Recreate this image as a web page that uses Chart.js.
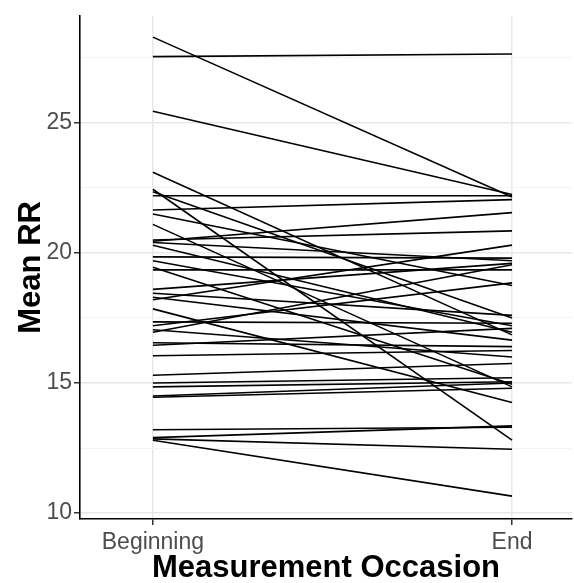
<!DOCTYPE html>
<html>
<head>
<meta charset="utf-8">
<script src="https://cdn.jsdelivr.net/npm/chart.js@4"></script>
<style>
  html, body { margin: 0; padding: 0; background: #fff; }
</style>
</head>
<body>
<canvas id="chart" width="574" height="583"></canvas>
<script>
// one entry per subject: mean RR at beginning and at end
const occasions = ['Beginning', 'End'];
const beginning = [
    28.3, 27.55, 25.45, 23.1, 22.45, 22.35, 22.2, 21.65, 21.5, 21.1,
    20.5, 20.45, 20.4, 20.3, 19.85, 19.7, 19.45, 19.35, 18.6, 18.45,
    18.3, 18.2, 17.85, 17.35, 17.2, 17.05, 16.95, 16.55, 16.45, 16.05,
    15.3, 15.0, 14.85, 14.5, 14.45, 13.2, 12.9, 12.85, 12.8
];
const end = [
    22.15, 27.65, 22.25, 16.85, 12.8, 17.5, 22.2, 22.05, 18.75, 14.85,
    20.85, 21.55, 19.7, 16.95, 19.8, 17.2, 14.95, 19.35, 19.6, 17.6,
    16.65, 20.3, 14.25, 17.3, 18.85, 16.0, 19.55, 16.4, 17.1, 16.25,
    15.75, 15.2, 15.05, 15.0, 14.8, 13.3, 13.35, 12.45, 10.65
];
const yTicks = [10, 12.5, 15, 17.5, 20, 22.5, 25, 27.5];

const datasets = beginning.map((b, i) => ({
    data: [{ x: 1, y: b }, { x: 2, y: end[i] }],
    borderColor: '#000',
    borderWidth: 1.6,
    pointRadius: 0,
    fill: false
}));

const isMajor = v => v % 5 === 0;

new Chart(document.getElementById('chart'), {
    type: 'line',
    data: { datasets },
    options: {
        responsive: false,
        animation: false,
        layout: { padding: { top: 10, right: 2, left: 0, bottom: 0 } },
        plugins: { legend: { display: false }, tooltip: { enabled: false } },
        scales: {
            x: {
                type: 'linear',
                min: 0.797,
                max: 2.167,
                afterBuildTicks: s => { s.ticks = [{ value: 1 }, { value: 2 }]; },
                afterFit: s => { s.height = 64; },
                ticks: {
                    autoSkip: false,
                    maxRotation: 0,
                    padding: 4,
                    color: '#4d4d4d',
                    font: { family: 'Liberation Sans', size: 23 },
                    callback: v => occasions[v - 1]
                },
                grid: { color: '#e8e8e8', lineWidth: 1.5, tickLength: 6, tickColor: '#333' },
                border: { display: true, color: '#000', width: 1.6 },
                title: {
                    display: true,
                    text: 'Measurement Occasion',
                    color: '#000',
                    font: { family: 'Liberation Sans', size: 31, weight: 'bold', lineHeight: 1 },
                    padding: { top: 0, bottom: -1 }
                }
            },
            y: {
                type: 'linear',
                min: 9.77,
                max: 29.12,
                afterBuildTicks: s => { s.ticks = yTicks.map(v => ({ value: v })); },
                afterFit: s => { s.width = 80; },
                ticks: {
                    padding: 2,
                    color: '#4d4d4d',
                    font: { family: 'Liberation Sans', size: 23 },
                    callback: v => isMajor(v) ? String(v) : ''
                },
                grid: {
                    color: c => isMajor(c.tick.value) ? '#e8e8e8' : '#f3f3f3',
                    lineWidth: c => isMajor(c.tick.value) ? 1.5 : 1,
                    tickLength: 6,
                    tickColor: c => isMajor(c.tick.value) ? '#333' : 'rgba(0,0,0,0)'
                },
                border: { display: true, color: '#000', width: 1.6 },
                title: {
                    display: true,
                    text: 'Mean RR',
                    color: '#000',
                    font: { family: 'Liberation Sans', size: 31, weight: 'bold', lineHeight: 1 },
                    padding: { top: 16, bottom: 0 }
                }
            }
        }
    }
});
</script>
</body>
</html>
